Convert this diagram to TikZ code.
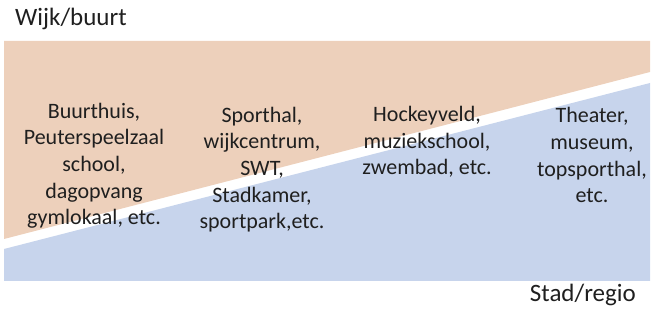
\documentclass[tikz,border=0pt]{standalone}
\usepackage{fontspec}
\setmainfont{Carlito}
\usepackage{xcolor}
\definecolor{wijkorange}{HTML}{EDD0BB}
\definecolor{stadblue}{HTML}{C7D4EC}
\tikzset{
    label-text/.style = {font=\fontsize{25}{30}\selectfont, text=black!88, inner sep=0pt},
    column-text/.style = {font=\fontsize{22}{26.7}\selectfont, text=black!88, inner sep=0pt, align=center, anchor=base},
}

\begin{document}
\begin{tikzpicture}[x=1pt, y=-1pt]
\useasboundingbox (0,0) rectangle (659,320);
% two bands
\fill[wijkorange] (4,41) -- (650,41) -- (650,72) -- (4,239) -- cycle;
\fill[stadblue] (4,249) -- (650,83) -- (650,281) -- (4,281) -- cycle;
% axis labels
\node[label-text, anchor=base west] (wijk) at (15,26) {Wijk/buurt};
\node[label-text, anchor=base east] (stad) at (636,302) {Stad/regio};
% columns (anchor is the baseline of the last line)
\node[column-text] (buurt) at (94,225) {Buurthuis,\\Peuterspeelzaal\\school,\\dagopvang\\gymlokaal, etc.};
\node[column-text] (sporthal) at (262,229) {Sporthal,\\wijkcentrum,\\SWT,\\Stadkamer,\\sportpark,etc.};
\node[column-text] (hockey) at (427,175) {Hockeyveld,\\muziekschool,\\zwembad, etc.};
\node[column-text] (theater) at (592,203) {Theater,\\museum,\\topsporthal,\\etc.};
\end{tikzpicture}
\end{document}
